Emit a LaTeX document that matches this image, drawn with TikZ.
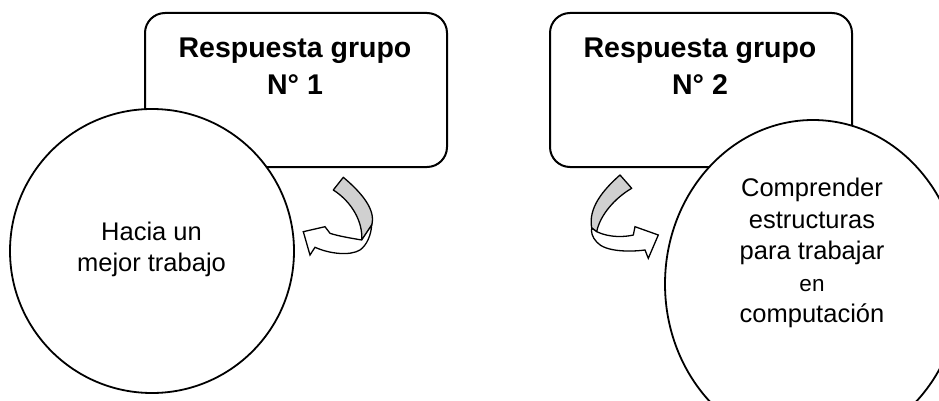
\documentclass[tikz,border=0pt]{standalone}
\usepackage{fontspec}
\setmainfont{Liberation Sans}
\usetikzlibrary{shapes.geometric}
\definecolor{bandgray}{RGB}{208,208,208}
\begin{document}
\begin{tikzpicture}[x=1pt,y=-1pt,
  titlebox/.style={draw, line width=2pt, rounded corners=20pt, minimum width=302pt, minimum height=154pt, inner sep=0pt, fill=white},
  bubble/.style={draw, line width=1.8pt, fill=white, inner sep=0pt},
  titletext/.style={align=center, font=\fontsize{28.5}{37}\selectfont\bfseries, inner sep=0pt},
  bodytext/.style={align=center, font=\fontsize{25.5}{31.5}\selectfont, inner sep=0pt},
  bandback/.style={draw, line width=1.3pt, fill=bandgray, line join=round},
  bandfront/.style={draw, line width=1.3pt, fill=white, line join=miter}]
\useasboundingbox (0,0) rectangle (939,401);
\clip (0,0) rectangle (939,401);
% left group
\node[titlebox] (box1) at (296,90) {};
\node[titletext] (title1) at (295,66.3) {Respuesta grupo\\N° 1};
\node[bubble, circle, minimum size=284pt] (circ1) at (152,251) {};
\node[bodytext] (text1) at (151.5,249.3) {Hacia un\\mejor trabajo};
% right group
\node[titlebox] (box2) at (701,90) {};
\node[titletext] (title2) at (700,66.3) {Respuesta grupo\\N° 2};
\node[bubble, ellipse, minimum width=296pt, minimum height=328pt] (circ2) at (813,284) {};
\node[bodytext] (text2) at (812,253) {Comprender\\estructuras\\para trabajar\\{\fontsize{22.5}{31.5}\selectfont en}\\computación};
% left curved arrow
\draw[bandback] (343.3,177.3) .. controls (362,193) and (376,210) .. (371.7,225) -- (361.7,240) .. controls (363,222) and (352,202) .. (333.3,190) -- cycle;
\draw[bandfront] (361.7,240) .. controls (350,238) and (338,236) .. (330,233.3) -- (325,226.7) -- (303.3,231.7) -- (310,255) -- (315,247.3) .. controls (330,254) and (350,256) .. (360,250) .. controls (367,245) and (371,235) .. (371.7,225) -- cycle;
% right curved arrow
\draw[bandback] (620,175) .. controls (603,190) and (588,208) .. (591.7,228) -- (596.7,231.7) .. controls (600,215) and (615,198) .. (631.7,188.3) -- cycle;
\draw[bandfront] (596.7,231.7) .. controls (610,238) and (625,237) .. (633.3,235) -- (635,226.7) -- (658.3,235) -- (648.3,258.3) -- (645,250) .. controls (630,252) and (605,252) .. (596.7,242) .. controls (592,237) and (591,232) .. (591.7,228) -- cycle;
\end{tikzpicture}
\end{document}
